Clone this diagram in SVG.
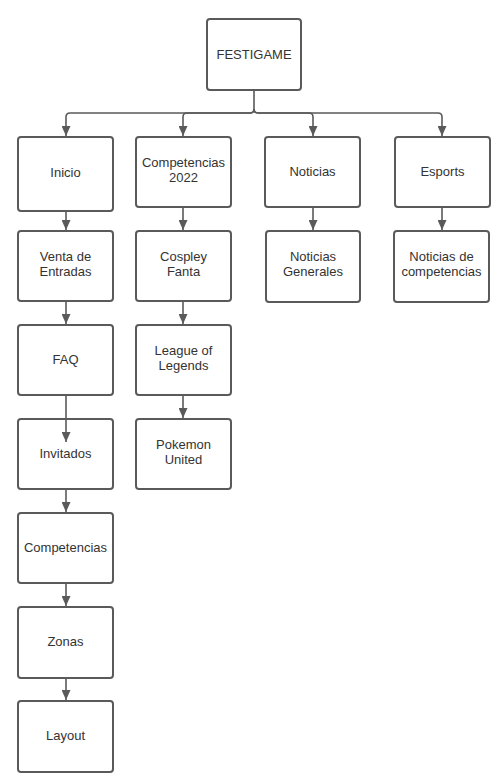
<svg xmlns="http://www.w3.org/2000/svg" width="502" height="783" viewBox="0 0 502 783">
<defs>
<style>
.n rect{fill:#fff;stroke:#5a5a5a;stroke-width:2}
text{font-family:"Liberation Sans",Arial,sans-serif;font-size:13px;fill:#333;text-anchor:middle}
.c path{fill:none;stroke:#5a5a5a;stroke-width:1.6}
</style>
<marker id="ah" viewBox="0 0 10 10" refX="10" refY="5" markerWidth="10" markerHeight="9" markerUnits="userSpaceOnUse" orient="auto" preserveAspectRatio="none">
<path d="M0,0 L10,5 L0,10 Z" fill="#5a5a5a"/>
</marker>
</defs>
<rect width="502" height="783" fill="#fff"/>
<g id="festigame" class="n"><rect x="207" y="19" width="94" height="71" rx="3"/><text x="254" y="59">FESTIGAME</text></g>
<g id="inicio" class="n"><rect x="18" y="137" width="95" height="74" rx="3"/><text x="65.5" y="177">Inicio</text></g>
<g id="competencias2022" class="n"><rect x="136" y="137" width="95" height="70" rx="3"/><text x="183.5" y="167">Competencias</text><text x="183.5" y="182">2022</text></g>
<g id="noticias" class="n"><rect x="265" y="137" width="95" height="70" rx="3"/><text x="312.5" y="176">Noticias</text></g>
<g id="esports" class="n"><rect x="395" y="137" width="95" height="70" rx="3"/><text x="442.5" y="176">Esports</text></g>
<g id="venta" class="n"><rect x="18" y="231" width="95" height="70" rx="3"/><text x="65.5" y="261">Venta de</text><text x="65.5" y="276">Entradas</text></g>
<g id="faq" class="n"><rect x="18" y="325" width="95" height="70" rx="3"/><text x="65.5" y="364">FAQ</text></g>
<g id="invitados" class="n"><rect x="18" y="419" width="95" height="70" rx="3"/><text x="65.5" y="458">Invitados</text></g>
<g id="competencias" class="n"><rect x="18" y="513" width="95" height="70" rx="3"/><text x="65.5" y="552">Competencias</text></g>
<g id="zonas" class="n"><rect x="18" y="607" width="95" height="71" rx="3"/><text x="65.5" y="646">Zonas</text></g>
<g id="layout" class="n"><rect x="18" y="701" width="95" height="71" rx="3"/><text x="65.5" y="740">Layout</text></g>
<g id="cosplay" class="n"><rect x="136" y="231" width="95" height="70" rx="3"/><text x="183.5" y="261">Cospley</text><text x="183.5" y="276">Fanta</text></g>
<g id="league" class="n"><rect x="136" y="325" width="95" height="70" rx="3"/><text x="183.5" y="355">League of</text><text x="183.5" y="370">Legends</text></g>
<g id="pokemon" class="n"><rect x="136" y="419" width="95" height="70" rx="3"/><text x="183.5" y="449">Pokemon</text><text x="183.5" y="464">United</text></g>
<g id="noticiasgenerales" class="n"><rect x="266" y="231" width="94" height="71" rx="3"/><text x="313" y="261">Noticias</text><text x="313" y="276">Generales</text></g>
<g id="noticiascomp" class="n"><rect x="394" y="231" width="95" height="71" rx="3"/><text x="441.5" y="261">Noticias de</text><text x="441.5" y="276">competencias</text></g>
<g class="c">
<path d="M254,91 V109 Q254,113 250,113 H70 Q66,113 66,117 V136" marker-end="url(#ah)"/>
<path d="M254,109 Q254,113 250,113 H187 Q183,113 183,117 V136" marker-end="url(#ah)"/>
<path d="M254,109 Q254,113 258,113 H309 Q313,113 313,117 V136" marker-end="url(#ah)"/>
<path d="M254,109 Q254,113 258,113 H438 Q442,113 442,117 V136" marker-end="url(#ah)"/>
<path d="M66,212 V230" marker-end="url(#ah)"/>
<path d="M66,302 V324" marker-end="url(#ah)"/>
<path d="M66,396 V442" marker-end="url(#ah)"/>
<path d="M66,490 V512" marker-end="url(#ah)"/>
<path d="M66,584 V606" marker-end="url(#ah)"/>
<path d="M66,679 V700" marker-end="url(#ah)"/>
<path d="M183,208 V230" marker-end="url(#ah)"/>
<path d="M183,302 V324" marker-end="url(#ah)"/>
<path d="M183,396 V418" marker-end="url(#ah)"/>
<path d="M313,208 V230" marker-end="url(#ah)"/>
<path d="M442,208 V230" marker-end="url(#ah)"/>
</g>
</svg>
